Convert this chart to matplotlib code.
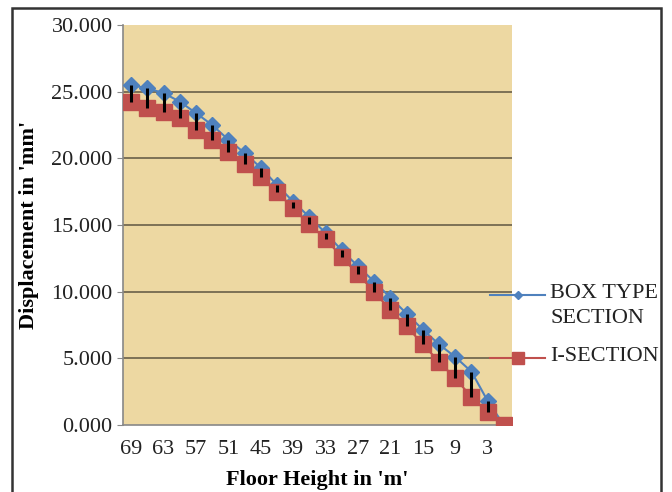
import matplotlib
matplotlib.use("Agg")
import matplotlib.pyplot as plt
from matplotlib.lines import Line2D
from matplotlib.patches import Rectangle

# floor heights (m), top storey first
heights = [69, 66, 63, 60, 57, 54, 51, 48, 45, 42, 39, 36,
           33, 30, 27, 24, 21, 18, 15, 12, 9, 6, 3, 0]
# displacement (mm)
box_type = [25.5, 25.25, 24.9, 24.25, 23.4, 22.5, 21.4, 20.4, 19.3, 18.0, 16.75, 15.6,
            14.4, 13.1, 11.9, 10.75, 9.55, 8.35, 7.15, 6.05, 5.1, 4.0, 1.8, 0.0]
i_section = [24.25, 23.8, 23.5, 23.0, 22.1, 21.4, 20.5, 19.6, 18.6, 17.5, 16.25, 15.05,
             13.95, 12.6, 11.3, 10.0, 8.6, 7.4, 6.05, 4.75, 3.5, 2.1, 0.95, 0.0]
labels = ["BOX TYPE\nSECTION", "I-SECTION"]

W, H = 672, 492
blue = '#4F81BD'
red = '#C0504D'
serif = ['Liberation Serif', 'DejaVu Serif']

fig = plt.figure(figsize=(W / 100, H / 100), dpi=100)
ax = fig.add_axes([123 / W, 1 - 425 / H, (512 - 123) / W, 400 / H])

x = list(range(len(heights)))
ax.set_facecolor('#EDD8A2')
for y in range(5, 30, 5):
    ax.axhline(y, color='#74694f', lw=1.3, zorder=1)

ax.plot(x, box_type, color=blue, lw=1.5, marker='D', ms=8.4, mec=blue, zorder=3)
ax.plot(x, i_section, color=red, lw=1.5, marker='s', ms=11.8, mec=red, zorder=4)
# high-low lines between the two series
ax.vlines(x, i_section, box_type, color='black', lw=2.2, zorder=5)

ax.set_xlim(-0.5, len(heights) - 0.5)
ax.set_ylim(0, 30)
ax.set_yticks(range(0, 31, 5))
ax.set_yticklabels([f"{v:.3f}" for v in range(0, 31, 5)], fontsize=16, family=serif, color='#222222')
ax.set_xticks(x[::2])
ax.set_xticklabels([str(h) for h in heights[::2]], fontsize=16, family=serif, color='#222222')
ax.tick_params(axis='y', length=4.5, color='#888888', pad=3)
ax.tick_params(axis='x', length=0, pad=11)
for s in ['top', 'right']:
    ax.spines[s].set_visible(False)
for s in ['left', 'bottom']:
    ax.spines[s].set_color('#888888')
    ax.spines[s].set_linewidth(1.2)

ax.set_xlabel("Floor Height in 'm'", fontsize=16, family=serif, fontweight='bold', labelpad=8)
ax.set_ylabel("Displacement in 'mm'", fontsize=16, family=serif, fontweight='bold', labelpad=9)

# legend drawn by hand so the handle sits on the first text line
def fx(px):
    return px / W

def fy(py):
    return 1 - py / H

styles = [(blue, 'D', 4.2, 295), (red, 's', 8.6, 358)]
for (col, mk, ms, py), lab in zip(styles, labels):
    fig.add_artist(Line2D([fx(490), fx(545)], [fy(py), fy(py)], color=col, lw=1.5))
    fig.add_artist(Line2D([fx(518)], [fy(py)], color=col, marker=mk, ms=ms, mec=col))
    fig.text(fx(550), fy(py - 11), lab, fontsize=16, family=serif, va='top', ha='left',
             color='#222222', linespacing=1.4)

# outer chart frame
fig.add_artist(Rectangle((fx(12), fy(530)), fx(661) - fx(12), fy(8) - fy(530),
                         transform=fig.transFigure, fill=False, ec='#333333', lw=1.8))

fig.savefig('out.png', dpi=100)
